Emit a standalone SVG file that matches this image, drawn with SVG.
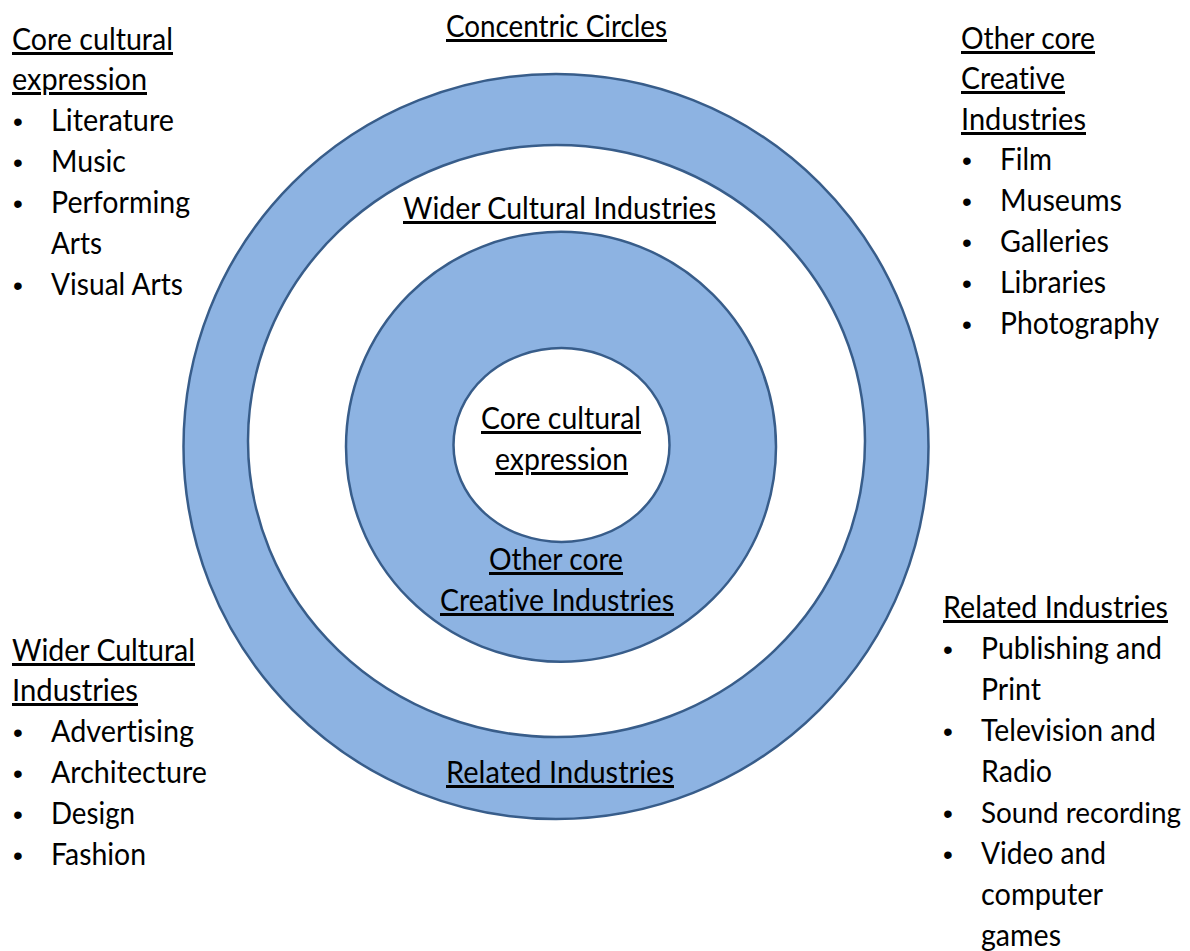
<svg xmlns="http://www.w3.org/2000/svg" width="1190" height="951" viewBox="0 0 1190 951">
<style>
text{font-family:Lato,"Open Sans","DejaVu Sans",sans-serif;font-size:30px;fill:#000;font-variant-ligatures:none;font-feature-settings:"liga" 0,"dlig" 0}
.u{text-decoration:underline}
.m{text-anchor:middle}
.b{font-family:"Liberation Sans",Arial,sans-serif;font-size:28px}
.ring{fill:#8DB3E2;stroke:#385D8A;stroke-width:2.5}
.hole{fill:#FFFFFF;stroke:#385D8A;stroke-width:2.5}
</style>
<rect width="1190" height="951" fill="#FFFFFF"/>
<g id="title"><text class="u m" x="556.5" y="37" textLength="221" lengthAdjust="spacingAndGlyphs">Concentric Circles</text></g>
<g id="circles">
<g id="related-ring"><circle class="ring" cx="556" cy="446.5" r="372.5"/></g>
<g id="wider-ring"><ellipse class="hole" cx="556.5" cy="441" rx="308.5" ry="296"/></g>
<g id="other-ring"><circle class="ring" cx="561" cy="446.7" r="215"/></g>
<g id="core-ring"><ellipse class="hole" cx="561.5" cy="445" rx="108" ry="97"/></g>
</g>
<g id="circle-labels">
<text class="u m" x="559.5" y="219" textLength="313" lengthAdjust="spacingAndGlyphs">Wider Cultural Industries</text>
<text class="u m" x="561" y="429" textLength="160" lengthAdjust="spacingAndGlyphs">Core cultural</text>
<text class="u m" x="561.5" y="470" textLength="133" lengthAdjust="spacingAndGlyphs">expression</text>
<text class="u m" x="556" y="570" textLength="134" lengthAdjust="spacingAndGlyphs">Other core</text>
<text class="u m" x="557" y="611" textLength="234" lengthAdjust="spacingAndGlyphs">Creative Industries</text>
<text class="u m" x="560" y="783" textLength="228" lengthAdjust="spacingAndGlyphs">Related Industries</text>
</g>
<g id="list-core">
<text class="u" x="12" y="50" textLength="161" lengthAdjust="spacingAndGlyphs">Core cultural</text>
<text class="u" x="12" y="90" textLength="135" lengthAdjust="spacingAndGlyphs">expression</text>
<text class="b" x="13" y="131">•</text><text x="51" y="131" textLength="123" lengthAdjust="spacingAndGlyphs">Literature</text>
<text class="b" x="13" y="172">•</text><text x="51" y="172" textLength="75" lengthAdjust="spacingAndGlyphs">Music</text>
<text class="b" x="13" y="213">•</text><text x="51" y="213" textLength="139" lengthAdjust="spacingAndGlyphs">Performing</text>
<text x="51" y="254" textLength="51" lengthAdjust="spacingAndGlyphs">Arts</text>
<text class="b" x="13" y="295">•</text><text x="51" y="295" textLength="132" lengthAdjust="spacingAndGlyphs">Visual Arts</text>
</g>
<g id="list-wider">
<text class="u" x="12" y="661" textLength="183" lengthAdjust="spacingAndGlyphs">Wider Cultural</text>
<text class="u" x="12" y="701" textLength="126" lengthAdjust="spacingAndGlyphs">Industries</text>
<text class="b" x="13" y="742">•</text><text x="51" y="742" textLength="143" lengthAdjust="spacingAndGlyphs">Advertising</text>
<text class="b" x="13" y="783">•</text><text x="51" y="783" textLength="156" lengthAdjust="spacingAndGlyphs">Architecture</text>
<text class="b" x="13" y="824">•</text><text x="51" y="824" textLength="84" lengthAdjust="spacingAndGlyphs">Design</text>
<text class="b" x="13" y="865">•</text><text x="51" y="865" textLength="95" lengthAdjust="spacingAndGlyphs">Fashion</text>
</g>
<g id="list-other">
<text class="u" x="961" y="49" textLength="134" lengthAdjust="spacingAndGlyphs">Other core</text>
<text class="u" x="961" y="89" textLength="104" lengthAdjust="spacingAndGlyphs">Creative</text>
<text class="u" x="961" y="130" textLength="125" lengthAdjust="spacingAndGlyphs">Industries</text>
<text class="b" x="962" y="170">•</text><text x="1000" y="170" textLength="52" lengthAdjust="spacingAndGlyphs">Film</text>
<text class="b" x="962" y="211">•</text><text x="1000" y="211" textLength="122" lengthAdjust="spacingAndGlyphs">Museums</text>
<text class="b" x="962" y="252">•</text><text x="1000" y="252" textLength="109" lengthAdjust="spacingAndGlyphs">Galleries</text>
<text class="b" x="962" y="293">•</text><text x="1000" y="293" textLength="106" lengthAdjust="spacingAndGlyphs">Libraries</text>
<text class="b" x="962" y="334">•</text><text x="1000" y="334" textLength="159" lengthAdjust="spacingAndGlyphs">Photography</text>
</g>
<g id="list-related">
<text class="u" x="943" y="618" textLength="225" lengthAdjust="spacingAndGlyphs">Related Industries</text>
<text class="b" x="943" y="659">•</text><text x="981" y="659" textLength="181" lengthAdjust="spacingAndGlyphs">Publishing and</text>
<text x="981" y="700" textLength="60" lengthAdjust="spacingAndGlyphs">Print</text>
<text class="b" x="943" y="741">•</text><text x="981" y="741" textLength="175" lengthAdjust="spacingAndGlyphs">Television and</text>
<text x="981" y="782" textLength="71" lengthAdjust="spacingAndGlyphs">Radio</text>
<text class="b" x="943" y="823">•</text><text x="981" y="823" style="font-size:28px" textLength="200" lengthAdjust="spacingAndGlyphs">Sound recording</text>
<text class="b" x="943" y="864">•</text><text x="981" y="864" textLength="125" lengthAdjust="spacingAndGlyphs">Video and</text>
<text x="981" y="905" textLength="122" lengthAdjust="spacingAndGlyphs">computer</text>
<text x="981" y="946" textLength="80" lengthAdjust="spacingAndGlyphs">games</text>
</g>
</svg>
